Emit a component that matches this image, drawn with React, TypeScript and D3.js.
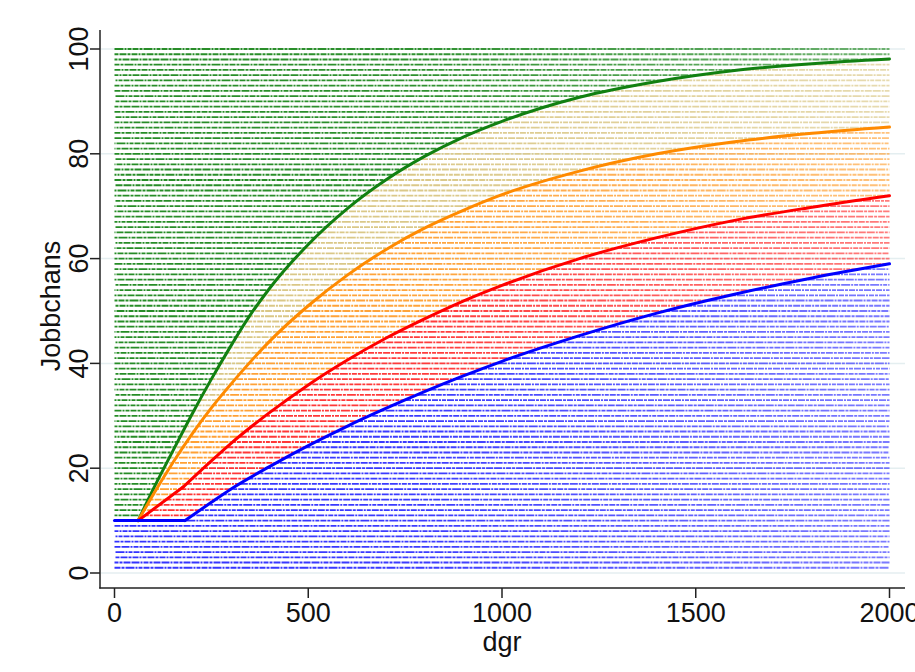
import React, { useEffect, useRef } from "react";
import * as d3 from "d3";

// curves, [dgr, Jobbchans]
const greenCurve = [
  [61, 10], [100, 16], [150, 23.2], [200, 30.3], [250, 37], [300, 43.3], [350, 49.2],
  [400, 54.3], [500, 62.7], [600, 69.5], [700, 75], [800, 79.5], [900, 83.2], [1000, 86.2],
  [1200, 90.8], [1400, 93.8], [1600, 95.9], [1800, 97.2], [2000, 98.1],
];
const orangeCurve = [
  [61, 10], [100, 15], [150, 21], [200, 26.5], [250, 31.5], [300, 36], [400, 44.2],
  [500, 51], [600, 56.8], [700, 61.7], [800, 65.8], [900, 69.2], [1000, 72.2],
  [1200, 76.7], [1400, 80], [1600, 82.3], [1800, 83.9], [2000, 85.1],
];
const redCurve = [
  [61, 10], [177, 16.4], [250, 21.4], [300, 24.7], [400, 30.6], [500, 35.9], [600, 40.6],
  [700, 44.8], [800, 48.5], [900, 51.9], [1000, 54.9], [1200, 60], [1400, 64],
  [1600, 67.3], [1800, 69.8], [2000, 72],
];
const blueCurve = [
  [0, 10], [182, 10], [250, 13.5], [300, 16], [400, 20.3], [500, 24.3], [600, 28],
  [700, 31.4], [800, 34.6], [900, 37.6], [1000, 40.4], [1200, 45.3], [1400, 49.6],
  [1600, 53.2], [1800, 56.3], [2000, 59],
];
// index where the straight start of each curve ends
const curveKinks = [0, 0, 1, 1];

// Jobbchans levels (one row of observations each)
const levels = [
  1, 2, 3, 4, 5, 6, 7, 8, 9, 10, 11, 12, 13, 14, 15, 16, 17, 18, 19, 20,
  21, 22, 23, 24, 25, 26, 27, 28, 29, 30, 31, 32, 33, 34, 35, 36, 37, 38, 39, 40,
  41, 42, 43, 44, 45, 46, 47, 48, 49, 50, 51, 52, 53, 54, 55, 56, 57, 58, 59, 60,
  61, 62, 63, 64, 65, 66, 67, 68, 69, 70, 71, 72, 73, 74, 75, 76, 77, 78, 79, 80,
  81, 82, 83, 84, 85, 86, 87, 88, 89, 90, 91, 92, 93, 94, 95, 96, 97, 98, 99, 100,
];

const xTicks = [0, 500, 1000, 1500, 2000];
const yTicks = [0, 20, 40, 60, 80, 100];

const dotColors = ["#268c26", "#d9c684", "#ffa033", "#ff3333", "#3333ff"];
const lineColors = ["#118011", "#ff8a00", "#ff0000", "#0000ff"];
const fontFam = "'Liberation Sans Narrow', 'Arial Narrow', 'Liberation Sans', Arial, sans-serif";

const dashes = ["6 1 3 1 9 1 2 1 4 1", "8 1 2 1 5 1 3 1 7 1", "4 1 7 1 3 1 6 1 2 1"];

const App = () => {
  const ref = useRef<SVGSVGElement>(null);

  useEffect(() => {
    const svg = d3.select(ref.current);
    svg.selectAll("*").remove();

    const x = d3.scaleLinear().domain([0, 2000]).range([114.5, 889.5]);
    const y = d3.scaleLinear().domain([0, 100]).range([573, 49]);

    const interp = (pts: number[][]) =>
      d3.scaleLinear().domain(pts.map(p => p[0])).range(pts.map(p => p[1])).clamp(true);
    const g = interp(greenCurve);
    const o = interp(orangeCurve);
    const r = interp(redCurve);
    const b = interp(blueCurve);
    const region = (xv: number, yv: number) => {
      if (yv > g(xv)) return 0;
      if (yv > o(xv)) return 1;
      if (yv > r(xv)) return 2;
      if (yv > b(xv)) return 3;
      return 4;
    };

    const defs = svg.append("defs");
    const grad = defs.append("linearGradient")
      .attr("id", "fadeGrad")
      .attr("gradientUnits", "userSpaceOnUse")
      .attr("x1", x(0)).attr("x2", x(2000)).attr("y1", 0).attr("y2", 0);
    grad.append("stop").attr("offset", 0).attr("stop-color", "#fff");
    grad.append("stop").attr("offset", 0.4).attr("stop-color", "#f4f4f4");
    grad.append("stop").attr("offset", 1).attr("stop-color", "#a4a4a4");
    defs.append("mask").attr("id", "fade")
      .append("rect")
      .attr("x", 0).attr("y", 0).attr("width", 915).attr("height", 672)
      .attr("fill", "url(#fadeGrad)");

    // gridlines
    svg.append("g")
      .selectAll("line")
      .data(yTicks)
      .enter()
      .append("line")
      .attr("x1", 101).attr("x2", 905)
      .attr("y1", d => y(d)).attr("y2", d => y(d))
      .attr("stroke", "#e4eef0")
      .attr("stroke-width", 1.5);

    // rows of observations, split where the curves cross them
    const step = 2;
    const segs: { y: number; x1: number; x2: number; c: number; i: number }[] = [];
    levels.forEach((lv, i) => {
      let start = 0;
      let cur = region(0, lv);
      for (let xv = step; xv <= 2000; xv += step) {
        const c = region(xv, lv);
        if (c !== cur) {
          const mid = xv - step / 2;
          segs.push({ y: lv, x1: start, x2: mid, c: cur, i });
          start = mid;
          cur = c;
        }
      }
      segs.push({ y: lv, x1: start, x2: 2000, c: cur, i });
    });

    svg.append("g")
      .attr("mask", "url(#fade)")
      .selectAll("line")
      .data(segs)
      .enter()
      .append("line")
      .attr("x1", d => x(d.x1))
      .attr("x2", d => x(d.x2))
      .attr("y1", d => y(d.y))
      .attr("y2", d => y(d.y))
      .attr("stroke", d => dotColors[d.c])
      .attr("stroke-width", 1.8)
      .attr("stroke-dasharray", d => dashes[d.i % 3])
      .attr("stroke-dashoffset", d => (d.i * 13) % 29 - x(d.x1) + x(0));

    // fitted curves: straight start, then smooth
    const straight = d3.line<number[]>()
      .x(d => x(d[0]))
      .y(d => y(d[1]));
    const smooth = d3.line<number[]>()
      .x(d => x(d[0]))
      .y(d => y(d[1]))
      .curve(d3.curveMonotoneX);
    [greenCurve, orangeCurve, redCurve, blueCurve].forEach((pts, k) => {
      const kink = curveKinks[k];
      const gc = svg.append("g")
        .attr("fill", "none")
        .attr("stroke", lineColors[k])
        .attr("stroke-width", 3)
        .attr("stroke-linejoin", "round")
        .attr("stroke-linecap", "round");
      if (kink > 0) gc.append("path").attr("d", straight(pts.slice(0, kink + 1)));
      gc.append("path").attr("d", smooth(pts.slice(kink)));
    });

    // axes
    const axisColor = "#222";
    svg.append("line")
      .attr("x1", 100).attr("x2", 100).attr("y1", 30).attr("y2", 588.5)
      .attr("stroke", axisColor).attr("stroke-width", 1.5);
    svg.append("line")
      .attr("x1", 99.25).attr("x2", 905).attr("y1", 588).attr("y2", 588)
      .attr("stroke", axisColor).attr("stroke-width", 1.5);

    const yAxis = svg.append("g").attr("transform", "translate(100,0)");
    const yt = yAxis.selectAll("g").data(yTicks).enter().append("g")
      .attr("transform", d => `translate(0,${y(d)})`);
    yt.append("line").attr("x1", -10).attr("x2", 0)
      .attr("stroke", axisColor).attr("stroke-width", 1.5);
    yt.append("text")
      .attr("transform", "rotate(-90)")
      .attr("x", 0).attr("y", -12)
      .attr("text-anchor", "middle")
      .style("font-family", fontFam)
      .style("font-size", "27px")
      .attr("fill", "#111")
      .text(d => d);

    const xAxis = svg.append("g").attr("transform", "translate(0,588)");
    const xt = xAxis.selectAll("g").data(xTicks).enter().append("g")
      .attr("transform", d => `translate(${x(d)},0)`);
    xt.append("line").attr("y1", 0).attr("y2", 10)
      .attr("stroke", axisColor).attr("stroke-width", 1.5);
    xt.append("text")
      .attr("y", 34)
      .attr("text-anchor", "middle")
      .style("font-family", fontFam)
      .style("font-size", "27px")
      .attr("fill", "#111")
      .text(d => d);

    svg.append("text")
      .attr("x", x(1000)).attr("y", 651)
      .attr("text-anchor", "middle")
      .style("font-family", fontFam)
      .style("font-size", "27px")
      .attr("fill", "#111")
      .text("dgr");

    svg.append("text")
      .attr("transform", `translate(60,306) rotate(-90)`)
      .attr("text-anchor", "middle")
      .style("font-family", fontFam)
      .style("font-size", "27px")
      .attr("fill", "#111")
      .text("Jobbchans");
  }, []);

  return (
    <svg
      ref={ref}
      width={915}
      height={672}
      style={{ position: "absolute", left: 0, top: 0, background: "#fff" }}
    />
  );
};

export default App;
